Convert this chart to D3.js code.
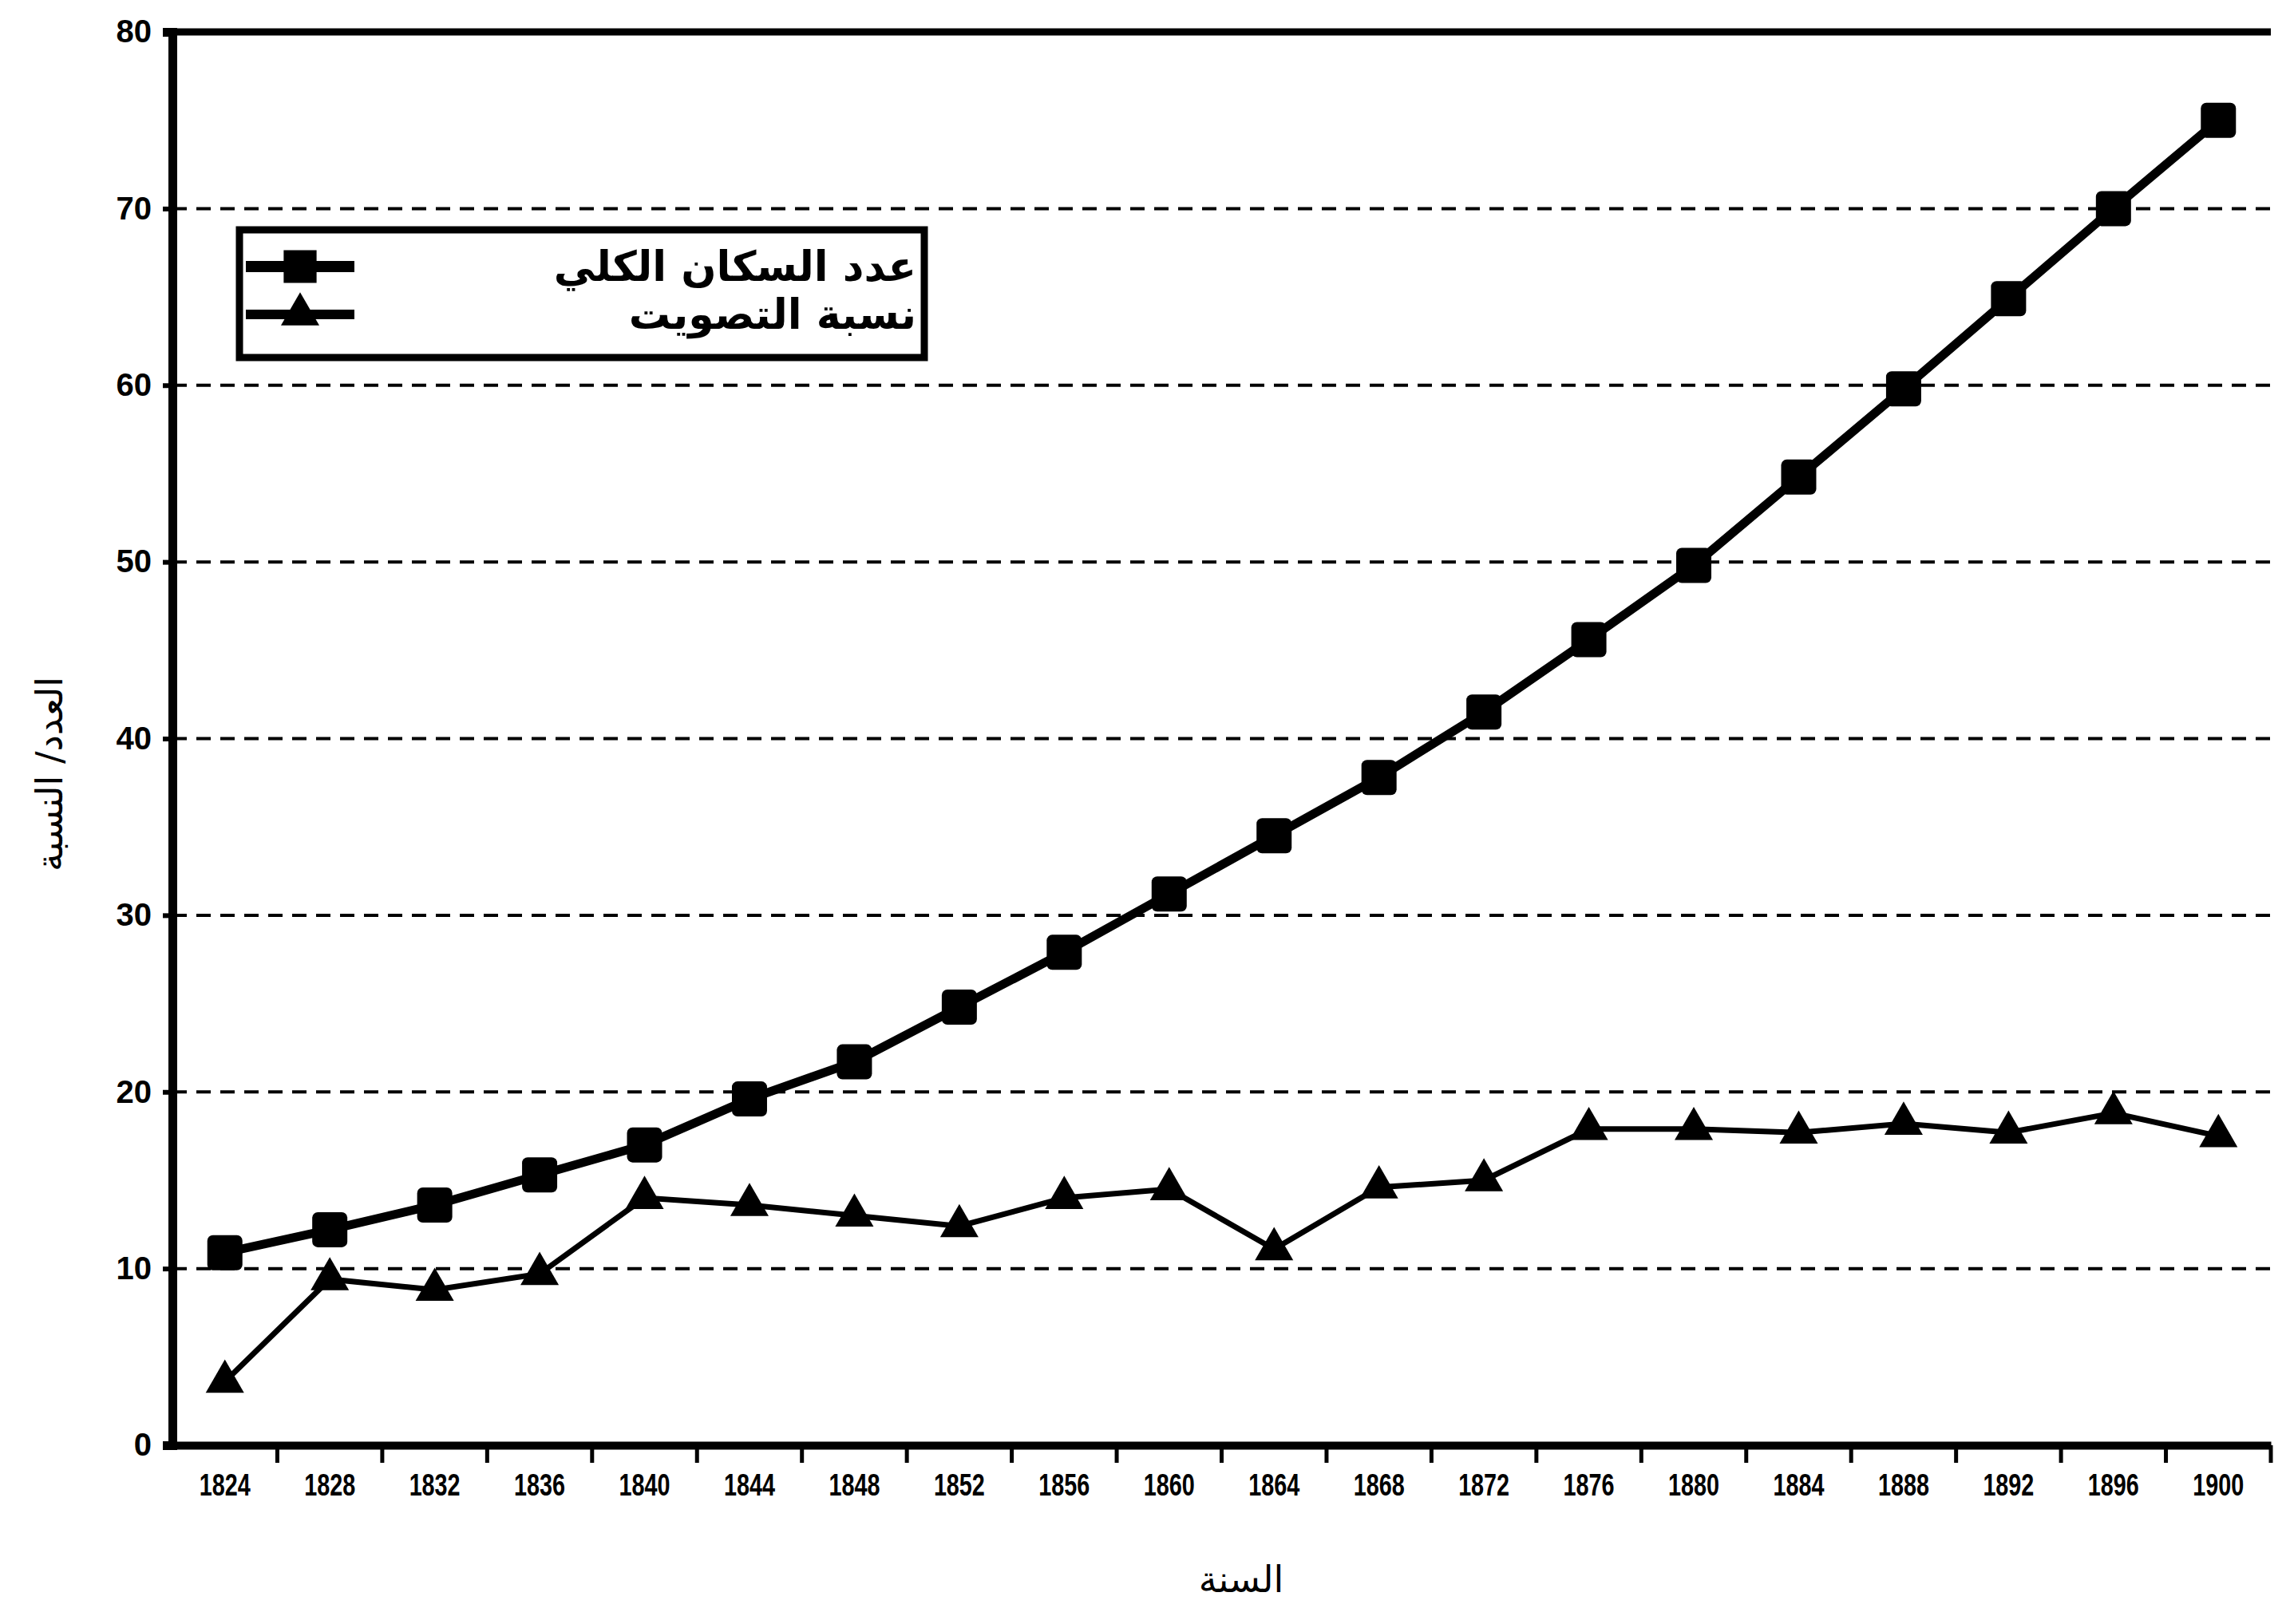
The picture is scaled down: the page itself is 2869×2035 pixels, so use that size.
<!DOCTYPE html>
<html>
<head>
<meta charset="utf-8">
<script src="https://cdn.jsdelivr.net/npm/d3@7"></script>
<style>
  body { margin: 0; background: #fff; }
  svg { display: block; }
</style>
</head>
<body>
<div id="chart"></div>
<script>
// data
var years = ["1824", "1828", "1832", "1836", "1840", "1844", "1848", "1852", "1856", "1860",
             "1864", "1868", "1872", "1876", "1880", "1884", "1888", "1892", "1896", "1900"];
var population = [10.9, 12.2, 13.6, 15.3, 17.0, 19.6, 21.7, 24.8, 27.9, 31.2,
                  34.5, 37.8, 41.5, 45.6, 49.8, 54.8, 59.8, 64.9, 70.0, 75.0];
var voting = [3.6, 9.4, 8.8, 9.7, 14.0, 13.6, 13.0, 12.4, 14.0, 14.5,
              11.1, 14.6, 15.0, 17.9, 17.9, 17.7, 18.2, 17.7, 18.8, 17.5];
var yTicks = [0, 10, 20, 30, 40, 50, 60, 70, 80];
var seriesNames = ["عدد السكان الكلي", "نسبة التصويت"];
var xTitle = "السنة";
var yTitle = "العدد/ النسبة";

var W = 2869, H = 2035;
var margin = {top: 40, right: 24, bottom: 224, left: 216}; // plot area edges

var svg = d3.select("#chart").append("svg")
  .attr("width", W)
  .attr("height", H);

var x = d3.scaleBand()
  .domain(years)
  .range([margin.left, W - margin.right]);

var y = d3.scaleLinear()
  .domain([0, 80])
  .range([H - margin.bottom, margin.top]);

var cx = function(d, i){ return x(years[i]) + x.bandwidth() / 2; };

// horizontal grid lines
svg.append("g").attr("class", "grid")
  .selectAll("line")
  .data(yTicks.filter(function(t){ return t > 0 && t < 80; }))
  .enter().append("line")
  .attr("x1", margin.left)
  .attr("x2", W - margin.right)
  .attr("y1", function(d){ return y(d); })
  .attr("y2", function(d){ return y(d); })
  .style("stroke", "#000")
  .style("stroke-width", 4)
  .style("stroke-dasharray", "18,12");

// top line at 80
svg.append("line")
  .attr("x1", margin.left)
  .attr("x2", W - margin.right)
  .attr("y1", y(80))
  .attr("y2", y(80))
  .style("stroke", "#000")
  .style("stroke-width", 9);

// y axis
var yAxis = svg.append("g")
  .attr("transform", "translate(" + margin.left + ",0)")
  .call(d3.axisLeft(y).tickValues(yTicks).tickSize(12).tickPadding(14));
yAxis.select(".domain").style("stroke-width", 11);
yAxis.selectAll(".tick line").style("stroke-width", 6);
yAxis.selectAll("text")
  .style("font-family", "'Liberation Sans', Arial, sans-serif")
  .style("font-weight", "900")
  .style("font-size", "40px");

// x axis, ticks between categories
var xAxis = svg.append("g")
  .attr("transform", "translate(0," + y(0) + ")")
  .call(d3.axisBottom(x).tickSize(0).tickPadding(36));
xAxis.select(".domain").style("stroke-width", 10);
xAxis.selectAll("text")
  .style("font-family", "'Liberation Sans', Arial, sans-serif")
  .style("font-weight", "900")
  .style("font-size", "38px")
  .attr("textLength", 64)
  .attr("lengthAdjust", "spacingAndGlyphs");
xAxis.selectAll(".sep")
  .data(years)
  .enter().append("line")
  .attr("class", "sep")
  .attr("x1", function(d){ return x(d) + x.bandwidth(); })
  .attr("x2", function(d){ return x(d) + x.bandwidth(); })
  .attr("y1", 0)
  .attr("y2", 22)
  .style("stroke", "#000")
  .style("stroke-width", 5);

// lines
var line = d3.line()
  .x(cx)
  .y(function(d){ return y(d); });

svg.append("path")
  .datum(population)
  .attr("d", line)
  .style("fill", "none")
  .style("stroke", "#000")
  .style("stroke-width", 11);

svg.append("path")
  .datum(voting)
  .attr("d", line)
  .style("fill", "none")
  .style("stroke", "#000")
  .style("stroke-width", 7);

// markers
var sq = 44;
svg.append("g").selectAll("rect")
  .data(population)
  .enter().append("rect")
  .attr("x", function(d, i){ return cx(d, i) - sq / 2; })
  .attr("y", function(d){ return y(d) - sq / 2; })
  .attr("width", sq)
  .attr("height", sq)
  .attr("rx", 7)
  .style("fill", "#000");

var tri = d3.symbol().type(d3.symbolTriangle).size(1000);
svg.append("g").selectAll("path")
  .data(voting)
  .enter().append("path")
  .attr("d", tri)
  .attr("transform", function(d, i){ return "translate(" + cx(d, i) + "," + y(d) + ")"; })
  .style("fill", "#000");

// legend
var legend = svg.append("g").attr("class", "legend");
legend.append("rect")
  .attr("x", 300)
  .attr("y", 288)
  .attr("width", 858)
  .attr("height", 160)
  .style("fill", "#fff")
  .style("stroke", "#000")
  .style("stroke-width", 9);

var rows = legend.selectAll(".row")
  .data(seriesNames)
  .enter().append("g")
  .attr("class", "row")
  .attr("transform", function(d, i){ return "translate(0," + (334 + i * 60) + ")"; });

rows.append("line")
  .attr("x1", 308)
  .attr("x2", 444)
  .style("stroke", "#000")
  .style("stroke-width", function(d, i){ return i === 0 ? 14 : 12; });

rows.append("path")
  .attr("d", function(d, i){
    return i === 0 ? d3.symbol().type(d3.symbolSquare).size(1700)() : tri();
  })
  .attr("transform", "translate(376,0)")
  .style("fill", "#000");

rows.append("text")
  .attr("x", 1148)
  .attr("dy", "0.35em")
  .attr("text-anchor", "start")
  .attr("direction", "rtl")
  .style("font-family", "'DejaVu Sans', sans-serif")
  .style("font-weight", "bold")
  .style("font-size", "52px")
  .text(function(d){ return d; });

// axis titles
svg.append("text")
  .attr("x", 1555)
  .attr("y", 1995)
  .attr("text-anchor", "middle")
  .style("font-family", "'DejaVu Sans', sans-serif")
  .style("font-size", "46px")
  .text(xTitle);

svg.append("text")
  .attr("transform", "translate(62,970) rotate(-90)")
  .attr("text-anchor", "middle")
  .attr("dy", "0.35em")
  .style("font-family", "'DejaVu Sans', sans-serif")
  .style("font-size", "46px")
  .text(yTitle);
</script>
</body>
</html>
